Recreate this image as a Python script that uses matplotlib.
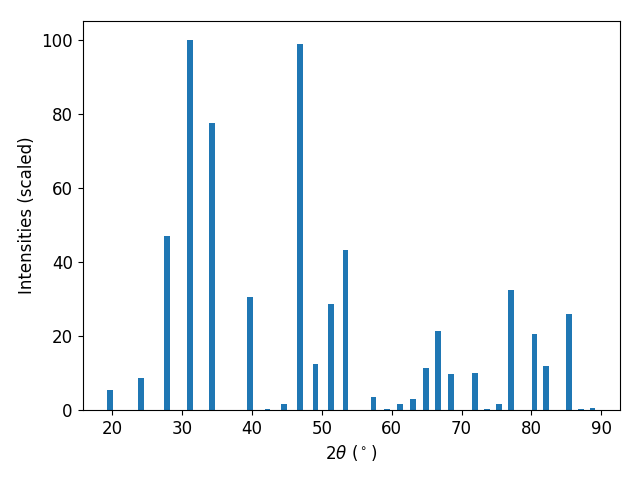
import matplotlib
matplotlib.use('Agg')
import matplotlib.pyplot as plt

# peak positions (2theta, degrees) and scaled intensities
two_theta = [19.64, 24.09, 27.82, 31.12, 34.28, 39.73, 42.24, 44.6, 46.9, 49.12,
             51.28, 53.36, 57.37, 59.31, 61.18, 63.04, 64.9, 66.65, 68.49, 71.94,
             73.66, 75.38, 77.1, 80.47, 82.12, 85.42, 87.07, 88.72]
intensity = [5.4, 8.7, 47.0, 100.0, 77.6, 30.4, 0.3, 1.6, 98.8, 12.5,
             28.5, 43.2, 3.5, 0.3, 1.6, 3.0, 11.4, 21.2, 9.8, 10.0,
             0.3, 1.6, 32.3, 20.6, 11.9, 25.8, 0.3, 0.5]

plt.rcParams['font.size'] = 12

fig, ax = plt.subplots(figsize=(6.4, 4.8), dpi=100)
ax.bar(two_theta, intensity, width=0.8)
ax.set_xlabel(r'$2\theta$ ($^\circ$)')
ax.set_ylabel('Intensities (scaled)')
fig.subplots_adjust(left=0.129, right=0.968, top=0.956, bottom=0.146)
fig.savefig('out.png')
